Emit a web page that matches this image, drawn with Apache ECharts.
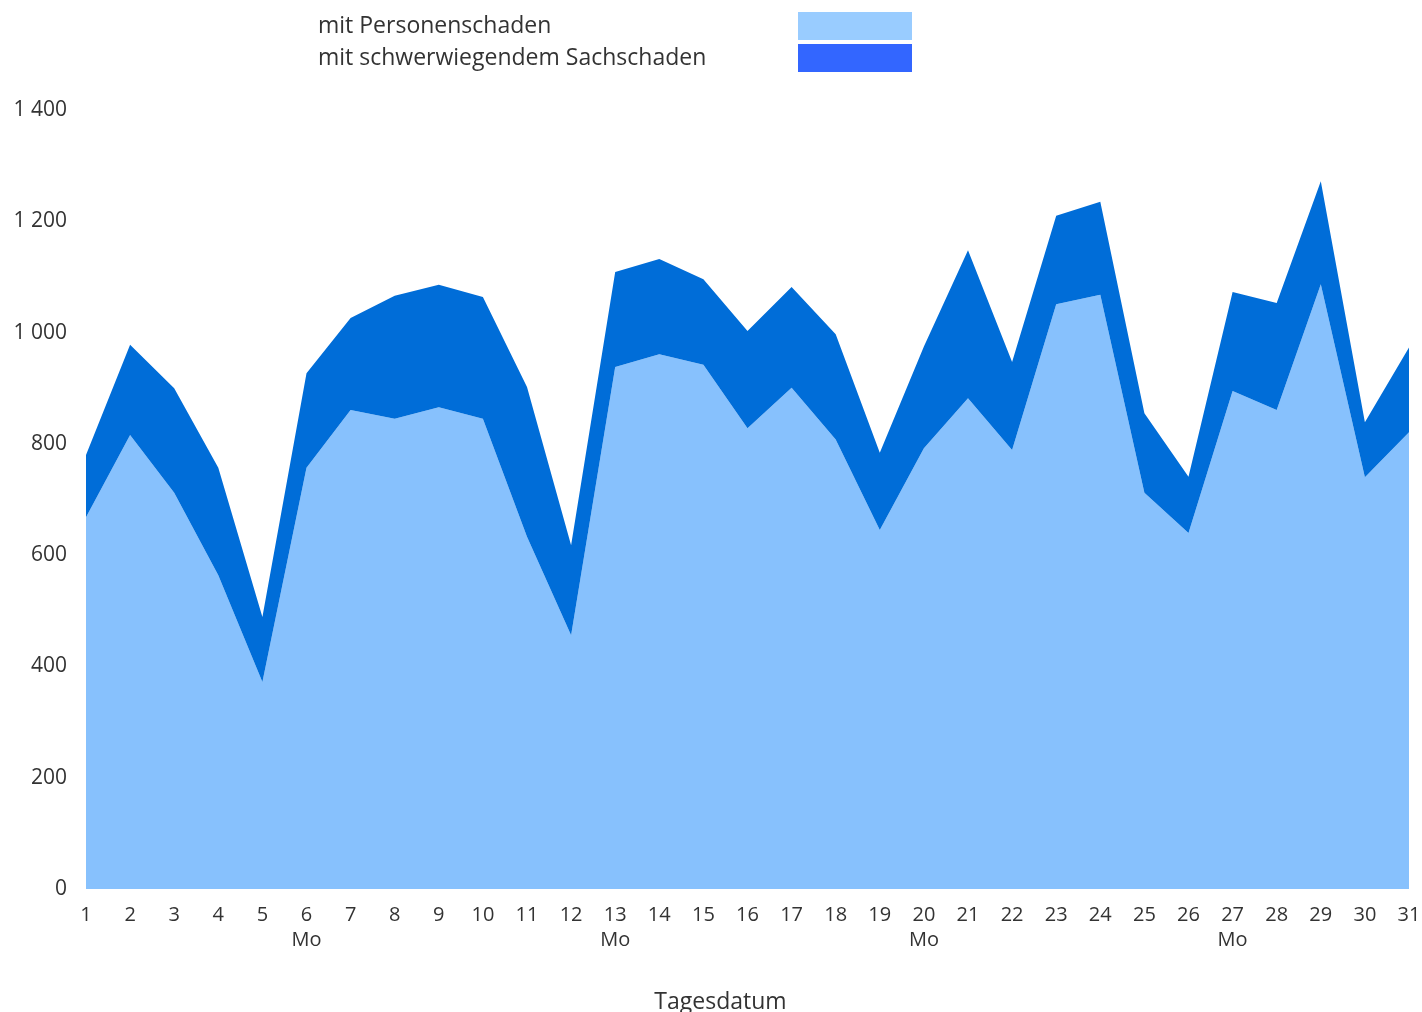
<!DOCTYPE html>
<html><head><meta charset="utf-8">
<script src="https://cdn.jsdelivr.net/npm/echarts@6/dist/echarts.min.js"></script>
<style>html,body{margin:0;padding:0;background:#fff;overflow:hidden}#c{width:1422px;height:1012px}</style>
</head><body><div id="c"></div>
<script>
const days = ['1','2','3','4','5','6','7','8','9','10','11','12','13','14','15','16','17','18','19','20','21','22','23','24','25','26','27','28','29','30','31'];
const mondays = ['6','13','20','27'];
const personenschaden = [668,816,712,564,372,757,861,845,866,845,633,456,938,961,942,828,901,808,645,792,882,789,1051,1068,712,640,895,861,1087,740,821];
const sachschaden = [112,162,188,193,117,170,165,221,220,219,269,162,171,171,154,175,181,189,139,183,266,158,159,167,143,101,178,192,185,99,152];
const yTicks = [0,200,400,600,800,1000,1200,1400];
const seriesNames = ['mit Personenschaden','mit schwerwiegendem Sachschaden'];

const FONT = "'Open Sans','Noto Sans',sans-serif";
const chart = echarts.init(document.getElementById('c'));
chart.setOption({
  animation:false,
  textStyle:{fontFamily:FONT},
  legend:{
    orient:'vertical', left:318, top:12, align:'right', padding:0,
    itemWidth:114, itemHeight:28, itemGap:4,
    icon:'rect',
    formatter: n => '{t|'+n+'}',
    textStyle:{fontFamily:FONT,fontSize:23,color:'#333',
      rich:{t:{fontFamily:FONT,fontSize:23,color:'#333',width:475,align:'left'}}},
    data:[
      {name:seriesNames[0], itemStyle:{color:'#99ccff'}},
      {name:seriesNames[1], itemStyle:{color:'#3366ff'}}
    ],
    selectedMode:false
  },
  grid:{left:86,right:13,top:110,bottom:123,containLabel:false,outerBoundsMode:'none'},
  xAxis:{
    type:'category', data:days, boundaryGap:false,
    axisLine:{show:false}, axisTick:{show:false},
    axisLabel:{fontFamily:FONT,fontSize:20,color:'#333',margin:14,lineHeight:25,interval:0,
      formatter:v=> mondays.includes(v) ? v+'\nMo' : v},
    name:'Tagesdatum', nameLocation:'middle', nameGap:102,
    nameTextStyle:{fontFamily:FONT,fontSize:23,color:'#333',padding:[0,54,0,0]}
  },
  yAxis:{
    type:'value', min:0, max:1400, interval:200,
    axisLine:{show:false}, axisTick:{show:false}, splitLine:{show:false},
    axisLabel:{fontFamily:FONT,fontSize:21,color:'#333',margin:19,
      formatter:v=> String(v).replace(/\B(?=(\d{3})+(?!\d))/g,' ')}
  },
  series:[
    {name:seriesNames[0], type:'line', stack:'t', data:personenschaden, symbol:'none',
     lineStyle:{width:0}, areaStyle:{color:'#87c1fd',opacity:1}, itemStyle:{color:'#87c1fd'}},
    {name:seriesNames[1], type:'line', stack:'t', data:sachschaden, symbol:'none',
     lineStyle:{width:0}, areaStyle:{color:'#006dd8',opacity:1}, itemStyle:{color:'#006dd8'}}
  ]
});
</script></body></html>
